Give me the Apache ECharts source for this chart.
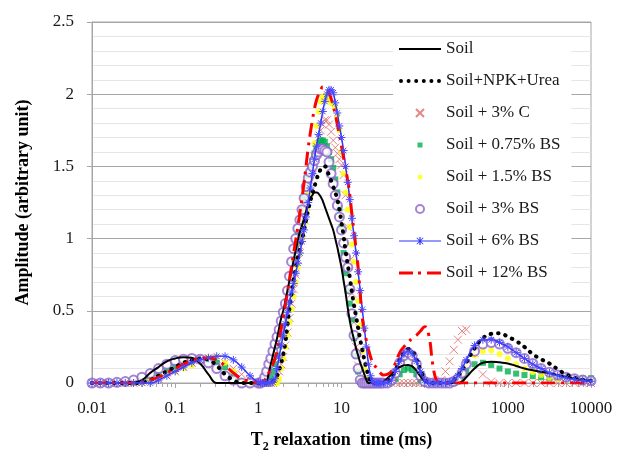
<!DOCTYPE html>
<html>
<head>
<meta charset="utf-8">
<script src="https://cdn.jsdelivr.net/npm/echarts@6/dist/echarts.min.js"></script>
<style>
  html, body { margin: 0; padding: 0; background: #fff; }
  #t2Chart { width: 619px; height: 458px; }
</style>
</head>
<body>
<div id="t2Chart"></div>
<script>
// T2 sample points (ms): 10/decade below 1 ms, 40/decade over the main peak, then 20 and 10/decade
const t2 = [
  0.01, 0.01259, 0.01585, 0.01995, 0.02512, 0.03162, 0.03981, 0.05012, 0.0631, 0.07943,
  0.1, 0.1259, 0.1585, 0.1995, 0.2512, 0.3162, 0.3981, 0.5012, 0.631, 0.7943, 1,
  1.059, 1.122, 1.189, 1.259, 1.334, 1.413, 1.496, 1.585, 1.679, 1.778,
  1.884, 1.995, 2.113, 2.239, 2.371, 2.512, 2.661, 2.818, 2.985, 3.162,
  3.35, 3.548, 3.758, 3.981, 4.217, 4.467, 4.732, 5.012, 5.309, 5.623,
  5.957, 6.31, 6.683, 7.079, 7.499, 7.943, 8.414, 8.913, 9.441, 10,
  10.59, 11.22, 11.89, 12.59, 13.34, 14.13, 14.96, 15.85, 16.79, 17.78,
  18.84, 19.95, 21.13, 22.39, 23.71, 25.12, 26.61, 28.18, 29.85, 31.62,
  35.48, 39.81, 44.67, 50.12, 56.23, 63.1, 70.79, 79.43, 89.13, 100,
  112.2, 125.9, 141.3, 158.5, 177.8, 199.5, 223.9, 251.2, 281.8, 316.2,
  398.1, 501.2, 631, 794.3, 1000, 1259, 1585, 1995, 2512, 3162, 3981, 5012, 6310, 7943, 10000,
];

const soil = [
  0, 0, 0, 0, 0, 0.005, 0.02, 0.07, 0.11, 0.15, 0.17, 0.178, 0.175, 0.135, 0.06, 0, 0, 0, 0, 0, 0,
  0, 0, 0, 0.01, 0.07, 0.13, 0.19, 0.25, 0.31, 0.38,
  0.45, 0.5, 0.57, 0.64, 0.71, 0.78, 0.85, 0.92, 0.99, 1.05,
  1.09, 1.14, 1.19, 1.24, 1.28, 1.3, 1.32, 1.32, 1.31, 1.29,
  1.26, 1.22, 1.18, 1.14, 1.1, 1.06, 1.0, 0.94, 0.87, 0.8,
  0.71, 0.62, 0.52, 0.43, 0.36, 0.3, 0.24, 0.19, 0.14, 0.1,
  0.06, 0.02, 0, 0, 0, 0, 0, 0, 0.005, 0.01,
  0.03, 0.06, 0.09, 0.11, 0.122, 0.125, 0.115, 0.085, 0.045, 0.01,
  0, 0, 0, 0, 0, 0, 0, 0, 0.01, 0.04,
  0.1, 0.14, 0.148, 0.143, 0.135, 0.118, 0.1, 0.088, 0.078, 0.068, 0.055, 0.042, 0.03, 0.02, 0.012,
];
const npkUrea = [
  0, 0, 0, 0, 0, 0, 0.005, 0.02, 0.05, 0.08, 0.11, 0.14, 0.16, 0.17, 0.16, 0.12, 0.06, 0.02, 0, 0, 0,
  0, 0, 0, 0, 0, 0, 0.01, 0.02, 0.05, 0.09,
  0.14, 0.2, 0.28, 0.4, 0.52, 0.62, 0.72, 0.8, 0.87, 0.93,
  0.99, 1.06, 1.13, 1.2, 1.26, 1.31, 1.36, 1.41, 1.45, 1.48,
  1.5, 1.5, 1.47, 1.44, 1.4, 1.36, 1.32, 1.27, 1.2, 1.11,
  1.02, 0.91, 0.82, 0.73, 0.63, 0.54, 0.46, 0.38, 0.3, 0.23,
  0.16, 0.1, 0.05, 0.01, 0, 0, 0, 0, 0, 0,
  0.01, 0.04, 0.09, 0.16, 0.21, 0.235, 0.22, 0.17, 0.09, 0.03,
  0, 0, 0, 0, 0, 0.005, 0.02, 0.05, 0.09, 0.14,
  0.24, 0.31, 0.34, 0.345, 0.32, 0.29, 0.25, 0.2, 0.165, 0.135, 0.095, 0.06, 0.036, 0.022, 0.015,
];
const c3 = [
  0, 0, 0, 0, 0, 0, 0.005, 0.015, 0.03, 0.05, 0.08, 0.11, 0.14, 0.16, 0.17, 0.165, 0.14, 0.1, 0.06, 0.02, 0,
  0, 0, 0, 0, 0, 0, 0, 0.01, 0.04, 0.08,
  0.13, 0.18, 0.26, 0.35, 0.45, 0.55, 0.65, 0.75, 0.85, 0.95,
  1.04, 1.13, 1.22, 1.31, 1.4, 1.49, 1.57, 1.64, 1.7, 1.75,
  1.79, 1.82, 1.82, 1.79, 1.74, 1.68, 1.63, 1.59, 1.55, 1.51,
  1.44, 1.3, 1.08, 0.85, 0.62, 0.42, 0.25, 0.12, 0.04, 0,
  0, 0, 0, 0, 0, 0, 0, 0, 0, 0,
  0, 0, 0, 0, 0, 0, 0, 0, 0, 0,
  0, 0, 0, 0.02, 0.08, 0.15, 0.23, 0.3, 0.36, 0.37,
  0.21, 0.06, 0.01, 0, 0, 0, 0, 0, 0, 0, 0, 0, 0, 0, 0,
];
const bs075 = [
  0, 0, 0, 0, 0, 0.005, 0.015, 0.03, 0.055, 0.085, 0.11, 0.135, 0.15, 0.16, 0.16, 0.14, 0.11, 0.05, 0.01, 0, 0,
  0, 0, 0, 0, 0.01, 0.04, 0.08, 0.13, 0.19, 0.26,
  0.33, 0.4, 0.47, 0.54, 0.64, 0.75, 0.85, 0.95, 1.04, 1.12,
  1.2, 1.28, 1.36, 1.43, 1.49, 1.54, 1.59, 1.63, 1.66, 1.68,
  1.68, 1.67, 1.64, 1.6, 1.55, 1.49, 1.41, 1.32, 1.21, 1.08,
  0.9, 0.76, 0.64, 0.55, 0.44, 0.31, 0.19, 0.08, 0.01, 0,
  0, 0, 0, 0, 0, 0, 0, 0, 0, 0,
  0, 0.005, 0.03, 0.06, 0.09, 0.1, 0.09, 0.06, 0.02, 0,
  0, 0, 0, 0, 0, 0, 0, 0.01, 0.04, 0.08,
  0.13, 0.14, 0.125, 0.1, 0.08, 0.065, 0.055, 0.047, 0.04, 0.037, 0.035, 0.034, 0.033, 0.033, 0.033,
];
const bs15 = [
  0, 0, 0, 0, 0, 0, 0.005, 0.02, 0.04, 0.06, 0.08, 0.1, 0.12, 0.15, 0.175, 0.18, 0.14, 0.08, 0.01, 0, 0,
  0, 0, 0, 0, 0, 0, 0, 0, 0, 0.03,
  0.1, 0.17, 0.25, 0.33, 0.42, 0.51, 0.6, 0.7, 0.8, 0.9,
  1.0, 1.1, 1.2, 1.31, 1.42, 1.53, 1.66, 1.78, 1.88, 1.95,
  1.98, 1.99, 1.98, 1.96, 1.94, 1.93, 1.91, 1.85, 1.75, 1.6,
  1.45, 1.32, 1.2, 1.08, 0.96, 0.84, 0.7, 0.57, 0.4, 0.22,
  0.1, 0.03, 0, 0, 0, 0, 0, 0, 0, 0,
  0, 0.01, 0.05, 0.12, 0.17, 0.19, 0.17, 0.11, 0.04, 0.005,
  0, 0, 0, 0, 0, 0, 0.01, 0.03, 0.07, 0.12,
  0.19, 0.22, 0.225, 0.2, 0.17, 0.13, 0.1, 0.075, 0.055, 0.04, 0.03, 0.022, 0.016, 0.012, 0.01,
];
const bs3 = [
  0, 0, 0, 0.005, 0.01, 0.02, 0.04, 0.065, 0.1, 0.13, 0.155, 0.165, 0.17, 0.165, 0.14, 0.1, 0.05, 0.02, 0, 0, 0,
  0, 0.01, 0.04, 0.08, 0.13, 0.17, 0.22, 0.27, 0.32, 0.37,
  0.43, 0.49, 0.55, 0.64, 0.74, 0.84, 0.93, 1.0, 1.07, 1.13,
  1.2, 1.28, 1.36, 1.42, 1.46, 1.5, 1.54, 1.58, 1.6, 1.62,
  1.62, 1.61, 1.6, 1.53, 1.45, 1.38, 1.3, 1.23, 1.15, 1.06,
  0.97, 0.87, 0.8, 0.65, 0.48, 0.33, 0.2, 0.1, 0.02, 0,
  0, 0, 0, 0, 0, 0, 0, 0, 0, 0,
  0, 0.02, 0.07, 0.14, 0.19, 0.21, 0.19, 0.13, 0.05, 0.01,
  0, 0, 0, 0, 0, 0, 0.01, 0.03, 0.07, 0.13,
  0.22, 0.27, 0.28, 0.27, 0.24, 0.21, 0.17, 0.135, 0.1, 0.075, 0.055, 0.04, 0.03, 0.02, 0.015,
];
const bs6 = [
  0, 0, 0, 0, 0, 0, 0, 0, 0.02, 0.05, 0.08, 0.11, 0.14, 0.16, 0.175, 0.185, 0.185, 0.16, 0.11, 0.05, 0.005,
  0, 0, 0, 0, 0, 0, 0.005, 0.03, 0.1, 0.18,
  0.26, 0.33, 0.41, 0.49, 0.56, 0.63, 0.69, 0.76, 0.83, 0.9,
  0.98, 1.06, 1.15, 1.25, 1.35, 1.45, 1.55, 1.64, 1.72, 1.8,
  1.88, 1.95, 2.0, 2.03, 2.03, 2.01, 1.94, 1.87, 1.78, 1.7,
  1.61, 1.5, 1.39, 1.27, 1.14, 1.02, 0.9, 0.77, 0.64, 0.51,
  0.38, 0.25, 0.13, 0.05, 0.01, 0, 0, 0, 0, 0,
  0, 0.02, 0.08, 0.15, 0.2, 0.22, 0.2, 0.15, 0.08, 0.02,
  0, 0, 0, 0, 0, 0.005, 0.02, 0.05, 0.1, 0.16,
  0.26, 0.3, 0.3, 0.28, 0.25, 0.21, 0.17, 0.13, 0.1, 0.07, 0.05, 0.035, 0.025, 0.018, 0.012,
];
const bs12 = [
  0, 0, 0, 0, 0, 0, 0.005, 0.02, 0.04, 0.07, 0.1, 0.13, 0.155, 0.17, 0.175, 0.16, 0.12, 0.07, 0.03, 0.01, 0,
  0, 0.005, 0.02, 0.04, 0.07, 0.1, 0.13, 0.17, 0.22, 0.3,
  0.38, 0.46, 0.54, 0.63, 0.72, 0.81, 0.9, 0.99, 1.08, 1.18,
  1.28, 1.39, 1.51, 1.63, 1.73, 1.82, 1.9, 1.96, 2.0, 2.03,
  2.05, 2.05, 2.04, 2.01, 1.97, 1.92, 1.86, 1.79, 1.72, 1.64,
  1.56, 1.48, 1.4, 1.3, 1.17, 1.05, 0.93, 0.8, 0.62, 0.45,
  0.37, 0.29, 0.23, 0.18, 0.14, 0.12, 0.1, 0.08, 0.065, 0.055,
  0.06, 0.08, 0.14, 0.21, 0.25, 0.28, 0.31, 0.33, 0.36, 0.39,
  0.33, 0.12, 0.01, 0, 0, 0, 0, 0, 0, 0,
  0, 0, 0, 0, 0, 0, 0, 0, 0, 0, 0, 0, 0, 0, 0,
];

const yTicks = [0, 0.5, 1, 1.5, 2, 2.5];
const seriesNames = [
  'Soil', 'Soil+NPK+Urea', 'Soil + 3% C', 'Soil + 0.75% BS',
  'Soil + 1.5% BS', 'Soil + 3% BS', 'Soil + 6% BS', 'Soil + 12% BS',
];

const serif = 'Liberation Serif, Times New Roman, serif';
const pairs = vals => t2.map((t, i) => [t, vals[i]]);
const gridGray = '#a6a6a6';
const crossPath = 'path://M0,0L7,7M7,0L0,7';
const starPath = 'path://M4,0L4,8M0,4L8,4M1.2,1.2L6.8,6.8M6.8,1.2L1.2,6.8';

// legend glyphs (42 x 8 box)
const iconSolid = 'path://M0,0H42V2H0Z';
const iconDots = 'path://M2,0A2,2,0,1,1,1.99,0Z M9.6,0A2,2,0,1,1,9.59,0Z M17.2,0A2,2,0,1,1,17.19,0Z'
  + ' M24.8,0A2,2,0,1,1,24.79,0Z M32.4,0A2,2,0,1,1,32.39,0Z M40,0A2,2,0,1,1,39.99,0Z';
const iconSquare = 'path://M0,0L0,0M8,8L8,8M1.5,1.5H6.5V6.5H1.5Z';
const iconDot = 'path://M0,0L0,0M8,8L8,8M4,1.5A2.5,2.5,0,1,1,3.99,1.5Z';
const iconStarLine = 'path://M0,3.4H42V4.6H0Z M20.4,0H21.6V8H20.4Z M17.5,1.1L18.1,0.5L24.5,6.9L23.9,7.5Z'
  + ' M23.9,0.5L24.5,1.1L18.1,7.5L17.5,6.9Z';
const iconDashDot = 'path://M0,0H14V3H0Z M19,0H22V3H19Z M28,0H42V3H28Z';

const chart = echarts.init(document.getElementById('t2Chart'));
const option = {
  animation: false,
  backgroundColor: '#fff',
  grid: {
    left: 92,
    right: 28,
    top: 22,
    bottom: 73,
    show: true,
    borderColor: gridGray,
    borderWidth: 1,
  },
  legend: {
    data: [
      { name: seriesNames[0], icon: iconSolid, itemStyle: { borderWidth: 0 } },
      { name: seriesNames[1], icon: iconDots, itemStyle: { borderWidth: 0 } },
      { name: seriesNames[2], icon: crossPath },
      { name: seriesNames[3], icon: iconSquare },
      { name: seriesNames[4], icon: iconDot },
      { name: seriesNames[5], icon: 'emptyCircle' },
      { name: seriesNames[6], icon: iconStarLine, itemStyle: { borderWidth: 0 } },
      { name: seriesNames[7], icon: iconDashDot, itemStyle: { borderWidth: 0 } },
    ],
    orient: 'vertical',
    left: 393,
    top: 37,
    itemWidth: 42,
    itemHeight: 8,
    itemGap: 12,
    backgroundColor: '#fff',
    padding: [2, 11, 4, 6],
    textStyle: {
      fontFamily: serif,
      fontSize: 17,
      color: '#1a1a1a',
      lineHeight: 20,
    },
  },
  xAxis: {
    type: 'log',
    logBase: 10,
    min: 0.01,
    max: 10000,
    name: '{a|T}{s|2}{a| relaxation  time (ms)}',
    nameLocation: 'middle',
    nameGap: 44,
    nameTextStyle: {
      rich: {
        a: { fontFamily: serif, fontWeight: 'bold', fontSize: 18, color: '#000', lineHeight: 22, verticalAlign: 'bottom' },
        s: { fontFamily: serif, fontWeight: 'bold', fontSize: 12, color: '#000', lineHeight: 22, verticalAlign: 'bottom', padding: [0, 0, -4, 0] },
      },
    },
    axisLine: { lineStyle: { color: gridGray } },
    axisTick: { show: true, length: 5, lineStyle: { color: gridGray } },
    minorTick: { show: true, splitNumber: 9, length: 4, lineStyle: { color: gridGray } },
    splitLine: { show: false },
    axisLabel: {
      fontFamily: serif,
      fontSize: 17,
      color: '#1a1a1a',
      margin: 17,
      formatter: v => String(v),
    },
  },
  yAxis: {
    type: 'value',
    min: yTicks[0],
    max: yTicks[yTicks.length - 1],
    interval: 0.5,
    name: 'Amplitude (arbitrary unit)',
    nameLocation: 'middle',
    nameGap: 60,
    nameTextStyle: {
      fontFamily: serif,
      fontWeight: 'bold',
      fontSize: 18,
      color: '#000',
    },
    axisLine: { show: true, lineStyle: { color: gridGray } },
    axisTick: { show: true, length: 5, lineStyle: { color: gridGray } },
    minorTick: { show: false, splitNumber: 5 },
    splitLine: { lineStyle: { color: gridGray } },
    minorSplitLine: { show: true, lineStyle: { color: '#e6e6e6' } },
    axisLabel: {
      fontFamily: serif,
      fontSize: 17,
      color: '#1a1a1a',
      margin: 18,
      formatter: v => String(v),
    },
  },
  series: [
    {
      name: seriesNames[0],
      type: 'line',
      data: pairs(soil),
      symbol: 'none',
      smooth: true,
      color: '#000',
      lineStyle: { width: 2, color: '#000' },
    },
    {
      name: seriesNames[1],
      type: 'line',
      data: pairs(npkUrea),
      symbol: 'none',
      smooth: true,
      color: '#000',
      lineStyle: { width: 4, color: '#000', type: [0.5, 7], cap: 'round' },
    },
    {
      name: seriesNames[2],
      type: 'scatter',
      data: pairs(c3),
      symbol: crossPath,
      symbolSize: 8,
      itemStyle: { color: '#e06666', borderColor: '#e06666', borderWidth: 1 },
    },
    {
      name: seriesNames[3],
      type: 'scatter',
      data: pairs(bs075),
      symbol: 'rect',
      symbolSize: 6,
      itemStyle: { color: '#00b050' },
    },
    {
      name: seriesNames[4],
      type: 'scatter',
      data: pairs(bs15),
      symbol: 'circle',
      symbolSize: 6,
      itemStyle: { color: '#ffff00' },
    },
    {
      name: seriesNames[5],
      type: 'scatter',
      data: pairs(bs3),
      symbol: 'emptyCircle',
      symbolSize: 9,
      itemStyle: { color: '#8c64c8', borderColor: '#8c64c8', borderWidth: 1 },
    },
    {
      name: seriesNames[6],
      type: 'line',
      data: pairs(bs6),
      smooth: true,
      showSymbol: true,
      showAllSymbol: true,
      symbol: starPath,
      symbolSize: 8,
      color: '#3333ff',
      itemStyle: { color: '#3333ff', borderColor: '#4a4aff', borderWidth: 1 },
      lineStyle: { width: 1.5, color: '#3333ff' },
    },
    {
      name: seriesNames[7],
      type: 'line',
      data: pairs(bs12),
      symbol: 'none',
      smooth: true,
      color: '#ff0000',
      lineStyle: { width: 3, color: '#ff0000', type: [14, 6, 3, 6] },
    },
  ],
};
chart.setOption(option);
</script>
</body>
</html>
